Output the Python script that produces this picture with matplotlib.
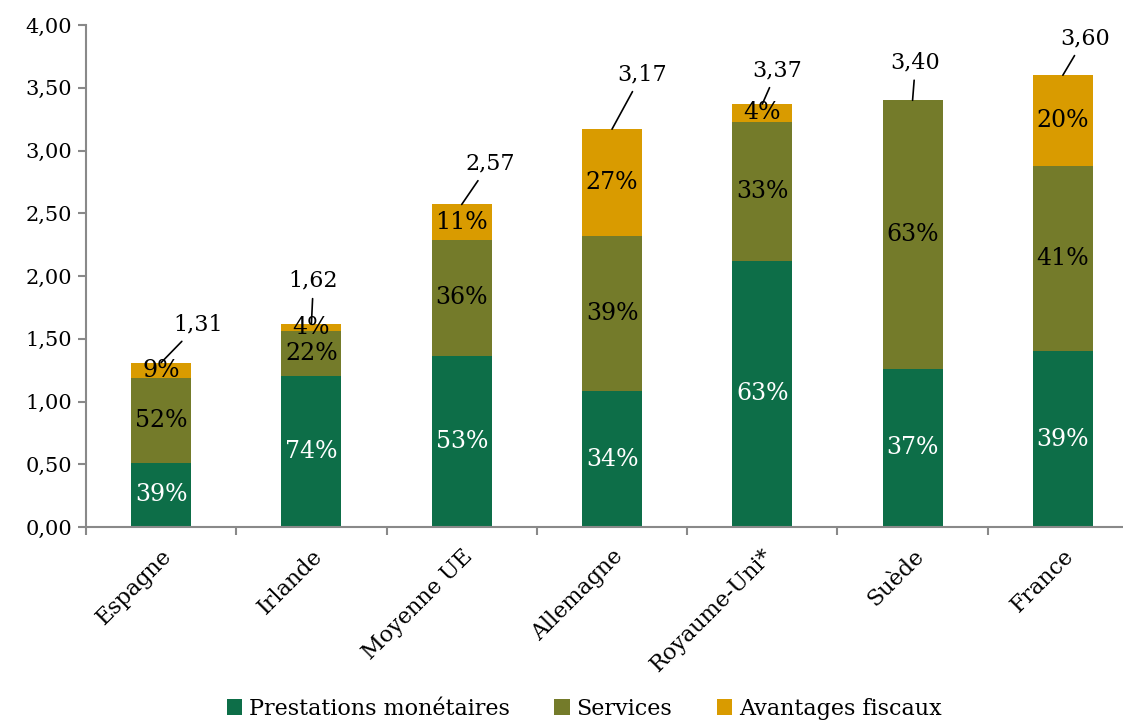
import numpy as np
import matplotlib.pyplot as plt
from matplotlib.ticker import FuncFormatter, FixedLocator
from matplotlib.transforms import ScaledTranslation

plt.rcParams['font.family'] = ['DejaVu Serif']

# data
pays = ['Espagne', 'Irlande', 'Moyenne UE', 'Allemagne', 'Royaume-Uni*', 'Suède', 'France']
prestations = [0.51, 1.20, 1.36, 1.08, 2.12, 1.26, 1.40]
services = [0.68, 0.36, 0.93, 1.24, 1.11, 2.14, 1.48]
fiscaux = [0.12, 0.06, 0.28, 0.85, 0.14, 0.00, 0.72]
totaux = [1.31, 1.62, 2.57, 3.17, 3.37, 3.40, 3.60]
pct_prest = ['39%', '74%', '53%', '34%', '63%', '37%', '39%']
pct_serv = ['52%', '22%', '36%', '39%', '33%', '63%', '41%']
pct_fisc = ['9%', '4%', '11%', '27%', '4%', '', '20%']

# where the total labels sit relative to the bar top (pixels)
offsets = [(37, 38), (2, 43), (28, 41), (30, 55), (15, 34), (3, 38), (22, 37)]

c_prest = '#0D6E48'
c_serv = '#747B2A'
c_fisc = '#D99B00'

fig = plt.figure(figsize=(11.23, 7.24), dpi=100)
ax = fig.add_axes([86/1123, 197/724, 1052/1123, 502/724])

x = np.arange(len(pays))
w = 0.4
p = np.array(prestations)
s = np.array(services)
f = np.array(fiscaux)

ax.bar(x, p, w, color=c_prest, label='Prestations monétaires')
ax.bar(x, s, w, bottom=p, color=c_serv, label='Services')
ax.bar(x, f, w, bottom=p + s, color=c_fisc, label='Avantages fiscaux')

fs = 15
fp = 17
for i in range(len(pays)):
    ax.text(x[i], p[i] / 2, pct_prest[i], ha='center', va='center', color='white', fontsize=fp)
    ax.text(x[i], p[i] + s[i] / 2, pct_serv[i], ha='center', va='center', color='black', fontsize=fp)
    if pct_fisc[i]:
        ax.text(x[i], p[i] + s[i] + f[i] / 2, pct_fisc[i], ha='center', va='center', color='black', fontsize=fp)
    lbl = ('%.2f' % totaux[i]).replace('.', ',')
    ax.annotate(lbl, xy=(x[i], totaux[i]), xytext=offsets[i], textcoords='offset pixels',
                ha='center', va='center', fontsize=16,
                arrowprops=dict(arrowstyle='-', color='black', lw=1.2, shrinkA=3, shrinkB=0))

ax.set_xlim(-0.5, len(pays) - 0.5)
ax.set_ylim(0, 4)
ax.set_yticks(np.arange(0, 4.01, 0.5))
ax.yaxis.set_major_formatter(FuncFormatter(lambda v, pos: ('%.2f' % v).replace('.', ',')))
ax.set_xticks(x)
ax.set_xticklabels(pays, rotation=45, ha='right', rotation_mode='anchor', fontsize=16)
shift = ScaledTranslation(-8/100, 0, fig.dpi_scale_trans)
for lab in ax.get_xticklabels():
    lab.set_transform(lab.get_transform() + shift)
ax.xaxis.set_minor_locator(FixedLocator(np.arange(-0.5, len(pays), 1.0)))
ax.tick_params(axis='x', which='major', length=0, pad=13)
ax.tick_params(axis='x', which='minor', length=6, color='#898989', width=1.5)
ax.tick_params(axis='y', length=6, color='#898989', width=1.5, labelsize=fs, pad=4)

for sp in ['top', 'right']:
    ax.spines[sp].set_visible(False)
for sp in ['left', 'bottom']:
    ax.spines[sp].set_color('#898989')
    ax.spines[sp].set_linewidth(1.5)

fig.legend(loc='lower center', bbox_to_anchor=(0.52, -0.022), ncol=3, frameon=False,
           fontsize=16, handlelength=0.7, handleheight=0.7, handletextpad=0.3,
           columnspacing=2.0)

fig.savefig('out.png', dpi=100)
